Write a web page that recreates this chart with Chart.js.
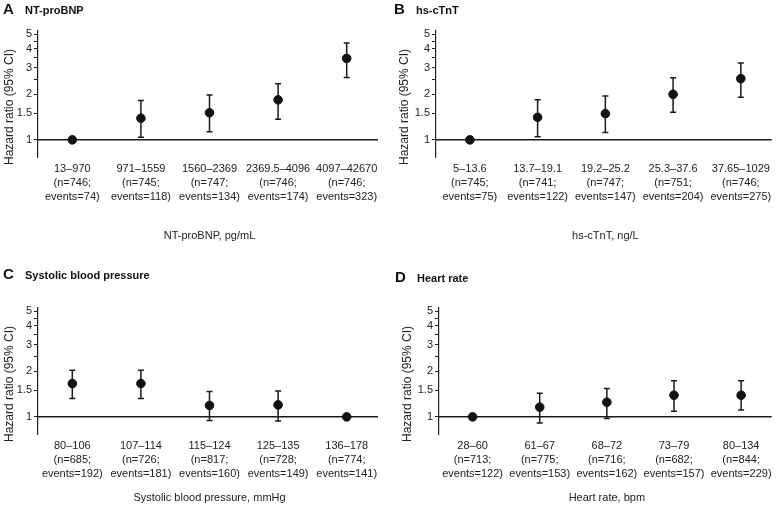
<!DOCTYPE html>
<html>
<head>
<meta charset="utf-8">
<script src="https://cdn.jsdelivr.net/npm/chart.js@4/dist/chart.umd.min.js"></script>
<style>
  body { margin: 0; background: #fff; font-family: 'Liberation Sans', Arial, sans-serif; }
  #wrap { position: relative; width: 780px; height: 520px; overflow: hidden; }
  .panel { position: absolute; width: 390px; height: 260px; }
  .panel canvas { position: absolute; left: 0; top: 0; }
  .head { position: absolute; font-weight: bold; color: #111; white-space: nowrap; }
  .head .letter { font-size: 15px; display: inline-block; width: 22px; }
  .head .name { font-size: 11px; }
</style>
</head>
<body>
<div id="wrap">
  <div class="panel" style="left:0;top:0"><canvas id="chartA" width="390" height="260"></canvas></div>
  <div class="panel" style="left:390px;top:0"><canvas id="chartB" width="390" height="260"></canvas></div>
  <div class="panel" style="left:0;top:260px"><canvas id="chartC" width="390" height="260"></canvas></div>
  <div class="panel" style="left:390px;top:260px"><canvas id="chartD" width="390" height="260"></canvas></div>
  <div class="head" style="left:3px;top:0px"><span class="letter">A</span><span class="name">NT-proBNP</span></div>
  <div class="head" style="left:394px;top:0px"><span class="letter">B</span><span class="name">hs-cTnT</span></div>
  <div class="head" style="left:3px;top:265px"><span class="letter">C</span><span class="name">Systolic blood pressure</span></div>
  <div class="head" style="left:395px;top:268px"><span class="letter">D</span><span class="name">Heart rate</span></div>
</div>
<script>
// y axis: log scale, marks at every half step, labels only on some
const yTicks = [1, 1.5, 2, 2.5, 3, 3.5, 4, 4.5, 5];
const yTickLabels = [1, 1.5, 2, 3, 4, 5];
const yMin = 0.77;
const yMax = 5.25;

// A - NT-proBNP
const ntLabels = [
  ['13–970', '(n=746;', 'events=74)'],
  ['971–1559', '(n=745;', 'events=118)'],
  ['1560–2369', '(n=747;', 'events=134)'],
  ['2369.5–4096', '(n=746;', 'events=174)'],
  ['4097–42670', '(n=746;', 'events=323)']
];
const ntHR = [1, 1.39, 1.51, 1.84, 3.46];
const ntLow = [1, 1.04, 1.13, 1.37, 2.59];
const ntHigh = [1, 1.82, 1.98, 2.35, 4.38];

// B - hs-cTnT
const tnLabels = [
  ['5–13.6', '(n=745;', 'events=75)'],
  ['13.7–19.1', '(n=741;', 'events=122)'],
  ['19.2–25.2', '(n=747;', 'events=147)'],
  ['25.3–37.6', '(n=751;', 'events=204)'],
  ['37.65–1029', '(n=746;', 'events=275)']
];
const tnHR = [1, 1.41, 1.49, 2.0, 2.54];
const tnLow = [1, 1.05, 1.12, 1.52, 1.91];
const tnHigh = [1, 1.84, 1.95, 2.58, 3.22];

// C - systolic blood pressure
const sbpLabels = [
  ['80–106', '(n=685;', 'events=192)'],
  ['107–114', '(n=726;', 'events=181)'],
  ['115–124', '(n=817;', 'events=160)'],
  ['125–135', '(n=728;', 'events=149)'],
  ['136–178', '(n=774;', 'events=141)']
];
const sbpHR = [1.66, 1.66, 1.19, 1.2, 1];
const sbpLow = [1.32, 1.32, 0.945, 0.94, 1];
const sbpHigh = [2.03, 2.03, 1.47, 1.48, 1];

// D - heart rate
const hrLabels = [
  ['28–60', '(n=713;', 'events=122)'],
  ['61–67', '(n=775;', 'events=153)'],
  ['68–72', '(n=716;', 'events=162)'],
  ['73–79', '(n=682;', 'events=157)'],
  ['80–134', '(n=844;', 'events=229)']
];
const hrHR = [1, 1.16, 1.25, 1.39, 1.39];
const hrLow = [1, 0.91, 0.975, 1.09, 1.11];
const hrHigh = [1, 1.43, 1.54, 1.73, 1.73];

const fontFamily = "'Liberation Sans', Arial, sans-serif";

// reference line at HR=1 and the CI whiskers, drawn under the dots
const errorBars = {
  id: 'errorBars',
  beforeDatasetsDraw(chart, args, opts) {
    const { ctx, chartArea } = chart;
    const x = chart.scales.x;
    const y = chart.scales.y;
    ctx.save();
    ctx.strokeStyle = '#1a1a1a';
    ctx.lineWidth = 1.5;
    const y1 = y.getPixelForValue(1);
    ctx.beginPath();
    ctx.moveTo(chartArea.left, y1);
    ctx.lineTo(chartArea.right - 3, y1);
    ctx.stroke();
    opts.low.forEach((lo, i) => {
      const hi = opts.high[i];
      if (lo === hi) return;
      const px = x.getPixelForValue(i);
      const top = y.getPixelForValue(hi);
      const bot = y.getPixelForValue(lo);
      ctx.beginPath();
      ctx.moveTo(px, top); ctx.lineTo(px, bot);
      ctx.moveTo(px - 3, top); ctx.lineTo(px + 3, top);
      ctx.moveTo(px - 3, bot); ctx.lineTo(px + 3, bot);
      ctx.stroke();
    });
    ctx.restore();
  }
};

// y title sits a bit below the middle of the axis in the original
const yTitle = {
  id: 'yTitle',
  afterDraw(chart, args, opts) {
    const { ctx, chartArea } = chart;
    ctx.save();
    ctx.translate(opts.x, (chartArea.top + chartArea.bottom) / 2 + 13);
    ctx.rotate(-Math.PI / 2);
    ctx.fillStyle = '#222';
    ctx.font = '12px ' + fontFamily;
    ctx.textAlign = 'center';
    ctx.textBaseline = 'middle';
    ctx.fillText('Hazard ratio (95% CI)', 0, 0);
    ctx.restore();
  }
};

const makePanel = function (id, p) {
  const ctx = document.getElementById(id);
  return new Chart(ctx, {
    type: 'line',
    data: {
      labels: p.labels,
      datasets: [{
        data: p.hr,
        showLine: false,
        pointRadius: 4.3,
        pointHoverRadius: 4.3,
        pointBackgroundColor: '#111',
        pointBorderColor: '#111',
        borderColor: '#111'
      }]
    },
    options: {
      responsive: false,
      animation: false,
      layout: { padding: { left: 0, right: 390 - p.right, top: p.top, bottom: 0 } },
      plugins: {
        legend: { display: false },
        tooltip: { enabled: false },
        errorBars: { low: p.low, high: p.high },
        yTitle: { x: p.yTitleX }
      },
      scales: {
        x: {
          type: 'category',
          offset: true,
          grid: { display: false, drawTicks: false },
          border: { display: false },
          ticks: {
            color: '#222',
            autoSkip: false,
            maxRotation: 0,
            padding: 5,
            font: { family: fontFamily, size: 11, lineHeight: 1.27 }
          },
          title: {
            display: true,
            text: p.xTitle,
            color: '#222',
            font: { family: fontFamily, size: 11 },
            padding: { top: 0, bottom: p.xTitlePad }
          },
          afterFit: (scale) => { scale.height = 260 - p.bottom; }
        },
        y: {
          type: 'logarithmic',
          min: yMin,
          max: yMax,
          afterBuildTicks: (scale) => { scale.ticks = yTicks.map(v => ({ value: v })); },
          afterFit: (scale) => { scale.width = p.left; },
          grid: { display: true, drawOnChartArea: false, drawTicks: true, tickLength: 4, color: '#222', lineWidth: 1 },
          border: { display: true, color: '#222', width: 1.2 },
          ticks: {
            color: '#222',
            autoSkip: false,
            padding: 2,
            font: { family: fontFamily, size: 11 },
            callback: (v) => yTickLabels.includes(v) ? String(v) : ''
          },
          title: { display: false }
        }
      }
    },
    plugins: [errorBars, yTitle]
  });
}

makePanel('chartA', { labels: ntLabels, hr: ntHR, low: ntLow, high: ntHigh, xTitle: 'NT-proBNP, pg/mL',
  left: 38, right: 381, top: 31, bottom: 157, xTitlePad: 17, yTitleX: 10 });
makePanel('chartB', { labels: tnLabels, hr: tnHR, low: tnLow, high: tnHigh, xTitle: 'hs-cTnT, ng/L',
  left: 46, right: 388, top: 31, bottom: 157, xTitlePad: 17, yTitleX: 15 });
makePanel('chartC', { labels: sbpLabels, hr: sbpHR, low: sbpLow, high: sbpHigh, xTitle: 'Systolic blood pressure, mmHg',
  left: 38, right: 381, top: 48, bottom: 174, xTitlePad: 15, yTitleX: 10 });
makePanel('chartD', { labels: hrLabels, hr: hrHR, low: hrLow, high: hrHigh, xTitle: 'Heart rate, bpm',
  left: 49, right: 390, top: 48, bottom: 174, xTitlePad: 15, yTitleX: 18 });
</script>
</body>
</html>
